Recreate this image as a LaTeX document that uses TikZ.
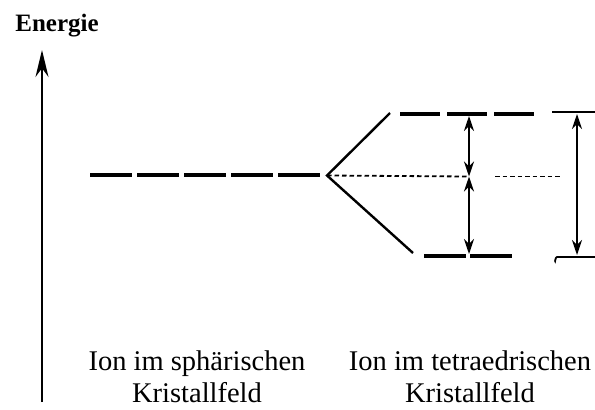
\documentclass[tikz,border=0pt]{standalone}
\usepackage{fontspec}
\setmainfont{Liberation Serif}
\usetikzlibrary{arrows.meta}
\begin{document}
\begin{tikzpicture}[x=1pt,y=-1pt,
  level/.style={line width=4.6pt},
  split/.style={line width=2.4pt},
  ref/.style={line width=1.8pt, dash pattern=on 4.5pt off 3pt},
  gap/.style={line width=1.8pt, {Stealth[length=15pt,width=10pt]}-{Stealth[length=15pt,width=10pt]}},
  label/.style={font=\fontsize{28.5}{33}\selectfont, inner sep=0pt, anchor=base}]
\useasboundingbox (0,0) rectangle (595,410);

% energy axis
\coordinate (axb) at (42,402);
\coordinate (axt) at (42,50);
\draw[line width=1.8pt, -{Stealth[length=27pt,width=13pt]}] (axb) -- (axt);
\node[label, font=\fontsize{25}{30}\selectfont\bfseries] (energie) at (57,31) {Energie};

% degenerate level in the spherical field
\coordinate (sl) at (90,175);
\coordinate (sr) at (322,175);
\coordinate (v) at (327,175.5);
\draw[level, dash pattern=on 42pt off 5pt] (sl) -- (sr);

% split levels in the tetrahedral field
\coordinate (tl) at (400,114);
\coordinate (tr) at (537,114);
\coordinate (el) at (424,256);
\coordinate (er) at (513,256);
\draw[level, dash pattern=on 40pt off 7pt] (tl) -- (tr);
\draw[level, dash pattern=on 42pt off 4pt] (el) -- (er);
\coordinate (su) at (390,113);
\coordinate (sd) at (413,253);
\draw[split] (su) -- (v) -- (sd);

% barycentre reference line
\coordinate (b1) at (469,176.5);
\coordinate (b2) at (495,176.5);
\coordinate (b3) at (560,176.5);
\draw[ref] (v) -- (b1);
\draw[ref] (b2) -- (b3);

% energy gaps to the barycentre
\coordinate (m1) at (469,116);
\coordinate (m2) at (469,254);
\draw[gap] (m1) -- (b1);
\draw[gap] (b1) -- (m2);

% total splitting
\coordinate (rt1) at (552,112);
\coordinate (rt2) at (595,112);
\coordinate (rb1) at (557,257);
\coordinate (rb2) at (595,257);
\coordinate (hook) at (555,261);
\draw[line width=1.8pt] (rt1) -- (rt2);
\draw[line width=1.8pt] (hook) to[out=-90,in=180] (rb1) -- (rb2);
\coordinate (ra) at (577,114);
\coordinate (rb) at (577,255);
\draw[gap] (ra) -- (rb);

% captions
\node[label] (sph1) at (197,370) {Ion im sphärischen};
\node[label] (sph2) at (197,402) {Kristallfeld};
\node[label] (tet1) at (470,370) {Ion im tetraedrischen};
\node[label] (tet2) at (470,402) {Kristallfeld};
\end{tikzpicture}
\end{document}
